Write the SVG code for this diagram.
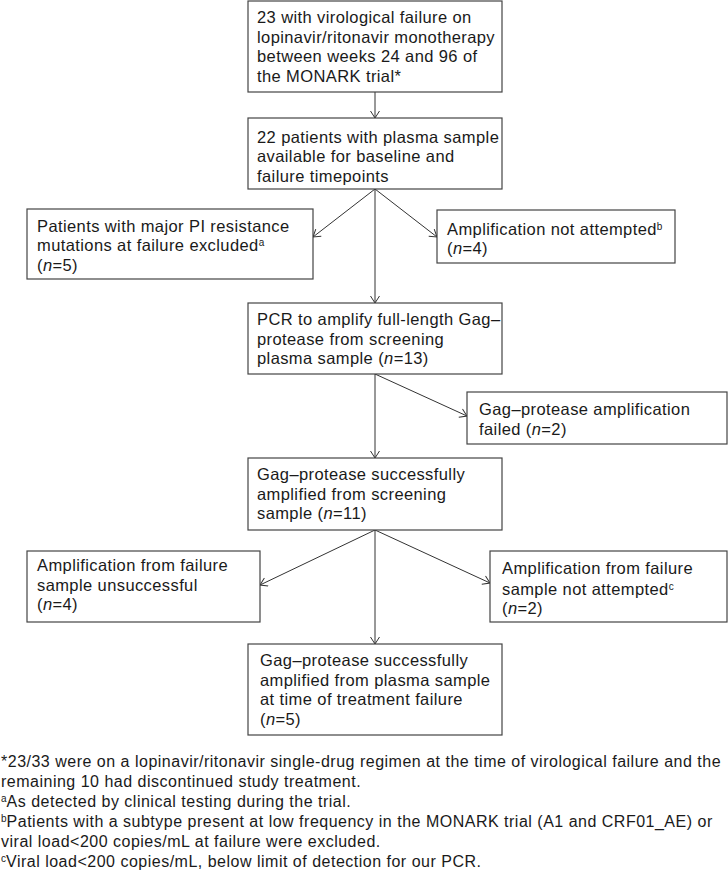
<svg xmlns="http://www.w3.org/2000/svg" width="728" height="874" viewBox="0 0 728 874">
<defs>
<marker id="arr" markerWidth="10" markerHeight="10" refX="8" refY="5" orient="auto" markerUnits="userSpaceOnUse">
<path d="M1,0.5 L8,5 L1,9.5" fill="none" stroke="#333" stroke-width="1"/>
</marker>
<style>
rect.box{fill:#fff;stroke:#444;stroke-width:1.2}
text{font-family:"Liberation Sans","Open Sans",sans-serif;font-size:16.5px;letter-spacing:0.4px;fill:#1a1a1a}
text.fn{font-size:16px;letter-spacing:0.5px}
.it{font-style:italic}
.sup{font-size:10px;baseline-shift:super;letter-spacing:0}
#connectors line{stroke:#333;stroke-width:1;marker-end:url(#arr)}
</style>
</defs>
<rect width="728" height="874" fill="#fff"/>
<g id="connectors">
<line x1="375" y1="92" x2="375" y2="118"/>
<line x1="375" y1="189" x2="313" y2="237"/>
<line x1="375" y1="189" x2="437" y2="237"/>
<line x1="375" y1="189" x2="375" y2="303"/>
<line x1="375" y1="374" x2="467" y2="416"/>
<line x1="375" y1="374" x2="375" y2="458"/>
<line x1="375" y1="530" x2="260" y2="585"/>
<line x1="375" y1="530" x2="490" y2="583"/>
<line x1="375" y1="530" x2="375" y2="644"/>
</g>
<g id="n1">
<rect class="box" x="248" y="1" width="254" height="91"/>
<text x="257" y="23">23 with virological failure on</text>
<text x="257" y="42.7">lopinavir/ritonavir monotherapy</text>
<text x="257" y="62.4">between weeks 24 and 96 of</text>
<text x="257" y="82">the MONARK trial*</text>
</g>
<g id="n2">
<rect class="box" x="248" y="118" width="254" height="71"/>
<text x="257" y="142.5">22 patients with plasma sample</text>
<text x="257" y="162">available for baseline and</text>
<text x="257" y="181.5">failure timepoints</text>
</g>
<g id="n3">
<rect class="box" x="27" y="209" width="286" height="70"/>
<text x="37" y="231.5">Patients with major PI resistance</text>
<text x="37" y="251">mutations at failure excluded<tspan class="sup">a</tspan></text>
<text x="37" y="270.5">(<tspan class="it">n</tspan>=5)</text>
</g>
<g id="n4">
<rect class="box" x="437" y="210" width="238" height="53"/>
<text x="447" y="234.5">Amplification not attempted<tspan class="sup">b</tspan></text>
<text x="447" y="254">(<tspan class="it">n</tspan>=4)</text>
</g>
<g id="n5">
<rect class="box" x="248" y="303" width="254" height="71"/>
<text x="257" y="325">PCR to amplify full-length Gag–</text>
<text x="257" y="344.5">protease from screening</text>
<text x="257" y="364">plasma sample (<tspan class="it">n</tspan>=13)</text>
</g>
<g id="n6">
<rect class="box" x="467" y="392" width="260" height="52"/>
<text x="479" y="415">Gag–protease amplification</text>
<text x="479" y="435">failed (<tspan class="it">n</tspan>=2)</text>
</g>
<g id="n7">
<rect class="box" x="248" y="458" width="254" height="72"/>
<text x="257" y="480">Gag–protease successfully</text>
<text x="257" y="499.5">amplified from screening</text>
<text x="257" y="519">sample (<tspan class="it">n</tspan>=11)</text>
</g>
<g id="n8">
<rect class="box" x="27" y="551" width="233" height="71"/>
<text x="37" y="571">Amplification from failure</text>
<text x="37" y="590.5">sample unsuccessful</text>
<text x="37" y="610">(<tspan class="it">n</tspan>=4)</text>
</g>
<g id="n9">
<rect class="box" x="490" y="551" width="237" height="71"/>
<text x="502" y="574">Amplification from failure</text>
<text x="502" y="594.5">sample not attempted<tspan class="sup">c</tspan></text>
<text x="502" y="614">(<tspan class="it">n</tspan>=2)</text>
</g>
<g id="n10">
<rect class="box" x="248" y="644" width="254" height="91"/>
<text x="260" y="666">Gag–protease successfully</text>
<text x="260" y="685.5">amplified from plasma sample</text>
<text x="260" y="705">at time of treatment failure</text>
<text x="260" y="724.5">(<tspan class="it">n</tspan>=5)</text>
</g>
<g id="footnotes">
<text class="fn" x="1" y="766.7">*23/33 were on a lopinavir/ritonavir single-drug regimen at the time of virological failure and the</text>
<text class="fn" x="1" y="786.7">remaining 10 had discontinued study treatment.</text>
<text class="fn" x="1" y="806.7"><tspan class="sup">a</tspan>As detected by clinical testing during the trial.</text>
<text class="fn" x="1" y="826.7"><tspan class="sup">b</tspan>Patients with a subtype present at low frequency in the MONARK trial (A1 and CRF01_AE) or</text>
<text class="fn" x="1" y="846.7">viral load&lt;200 copies/mL at failure were excluded.</text>
<text class="fn" x="1" y="866.7"><tspan class="sup">c</tspan>Viral load&lt;200 copies/mL, below limit of detection for our PCR.</text>
</g>
</svg>
